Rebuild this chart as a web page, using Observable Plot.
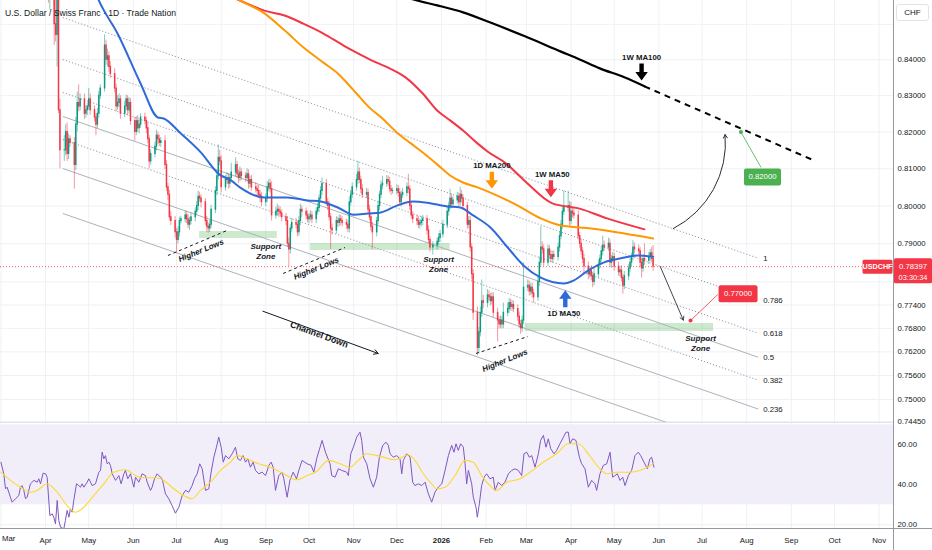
<!DOCTYPE html>
<html><head><meta charset="utf-8">
<script src="https://cdn.jsdelivr.net/npm/d3@7"></script>
<script src="https://cdn.jsdelivr.net/npm/@observablehq/plot@0.6"></script>
<style>
body{margin:0;background:#fff;}
#wrap{position:relative;width:932px;height:550px;overflow:hidden;background:#fff;font-family:'Liberation Sans',Arial,sans-serif;}
#price{position:absolute;left:0;top:0;z-index:2;}
#rsi{position:absolute;left:0;top:422px;z-index:1;}
#title{position:absolute;left:5px;top:8px;font-size:8.6px;color:#131722;white-space:nowrap;z-index:3;}
#chf{position:absolute;left:896px;top:4px;width:33px;height:17px;border:1px solid #e0e3eb;border-radius:3px;background:#fff;font-size:8px;line-height:15px;text-align:center;color:#131722;box-sizing:border-box;z-index:3;}
#vsep{position:absolute;left:893px;top:0;width:1px;height:550px;background:#9598a1;z-index:4;}
#hsep{position:absolute;left:0;top:528px;width:932px;height:1px;background:#9598a1;z-index:4;}
</style></head>
<body><div id="wrap"><div id="price"></div><div id="rsi"></div>
<div id="title">U.S. Dollar / Swiss Franc · 1D · Trade Nation</div><div id="chf">CHF</div><div id="vsep"></div><div id="hsep"></div></div>
<script>
// ---------- DATA ----------
const barsFrom = "2025-03-03", barsTo = "2026-05-29";
const holidays = ["2025-12-25","2026-01-01"];
const firstOpen = 0.9010;
const closes = [
0.8990,0.8920,0.8860,0.8830,0.8810,
0.8820,0.8810,0.8840,0.8850,0.8860,
0.8800,0.8780,0.8770,0.8800,0.8830,
0.8840,0.8830,0.8850,0.8830,0.8820,
0.8840,0.8830,0.8800,0.8600,0.8610,
0.8500,0.8470,0.8570,0.8260,0.8150,
0.8150,0.8200,0.8140,0.8180,0.8170,
0.8110,0.8220,0.8280,0.8270,0.8290,
0.8250,0.8260,0.8270,0.8290,0.8260,
0.8240,0.8220,0.8250,0.8300,0.8320,
0.8440,0.8400,0.8410,0.8380,0.8360,
0.8320,0.8270,0.8280,0.8290,0.8250,
0.8270,0.8290,0.8260,0.8280,0.8230,
0.8200,0.8230,0.8210,0.8220,0.8240,
0.8230,0.8210,0.8180,0.8120,0.8140,
0.8160,0.8190,0.8180,0.8170,0.8175,
0.8110,0.8050,0.8030,0.7970,0.7960,
0.7930,0.7910,0.7930,0.7960,0.7965,
0.7975,0.7965,0.7950,0.7960,0.7970,
0.7985,0.8000,0.8025,0.8020,0.8010,
0.7960,0.7945,0.7940,0.7950,0.7990,
0.8040,0.8080,0.8130,0.8120,0.8050,
0.8070,0.8075,0.8060,0.8075,0.8090,
0.8110,0.8085,0.8075,0.8090,0.8080,
0.8075,0.8085,0.8060,0.8070,0.8050,
0.8045,0.8040,0.8030,0.8025,0.8010,
0.8020,0.8050,0.8060,0.8045,0.7975,
0.7985,0.7990,0.7985,0.7980,0.7970,
0.7960,0.7900,0.7885,0.7940,0.7955,
0.7950,0.7930,0.7960,0.7990,0.7985,
0.7975,0.7965,0.7970,0.7975,0.7965,
0.7985,0.7995,0.8020,0.8040,0.8060,
0.8010,0.8000,0.7970,0.7940,0.7935,
0.7960,0.7955,0.7965,0.7960,0.7955,
0.7950,0.7940,0.8010,0.8030,0.8050,
0.8070,0.8090,0.8070,0.8045,0.8030,
0.8035,0.7990,0.7970,0.7945,0.7930,
0.7960,0.8000,0.8030,0.8055,0.8060,
0.8070,0.8065,0.8045,0.8040,0.8040,
0.8045,0.8035,0.8010,0.8030,0.8035,
0.8050,0.8045,0.8000,0.7975,0.7965,
0.7960,0.7950,0.7955,0.7960,0.7965,
0.7935,0.7910,0.7890,0.7895,
0.7905,0.7915,0.7925,0.7950,
0.7985,0.8000,0.8020,0.8005,0.8015,
0.8025,0.8010,0.8030,0.8020,0.8000,
0.7950,0.7960,0.7890,0.7820,0.7720,
0.7630,0.7670,0.7720,0.7750,0.7745,
0.7765,0.7760,0.7750,0.7760,0.7720,
0.7700,0.7690,0.7700,0.7690,0.7720,
0.7730,0.7745,0.7735,0.7740,0.7730,
0.7710,0.7690,0.7680,0.7700,0.7785,
0.7790,0.7775,0.7785,0.7770,0.7760,
0.7800,0.7850,0.7890,0.7885,0.7850,
0.7885,0.7870,0.7860,0.7870,0.7865,
0.7890,0.7920,0.7950,0.7985,0.7995,
0.8000,0.7960,0.7985,0.7980,0.7975,
0.7920,0.7900,0.7880,0.7860,0.7840,
0.7820,0.7830,0.7815,0.7800,0.7820,
0.7845,0.7860,0.7880,0.7895,0.7890,
0.7900,0.7850,0.7860,0.7865,0.7840,
0.7825,0.7830,0.7810,0.7790,0.7815,
0.7835,0.7850,0.7865,0.7890,0.7885,
0.7880,0.7850,0.7835,0.7860,0.7855,
0.7865,0.7875,0.7860,0.78397];
// wick extensions in pips beyond the candle body
const wickUp = [
10,12,8,10,9, 9,11,8,10,7, 8,10,12,9,11, 10,8,12,9,10, 8,10,20,10,30,
50,80,70,20,30, 40,20,25,15,10, 15,20,30,50,15, 15,12,10,30,15, 12,10,15,12,10,
30,15,20,12,15, 15,12,20,15,10, 15,12,10,15,12, 10,12,15,12,10, 12,10,15,10,12,
12,15,10,12,10, 15,12,10,12,15, 12,10,15,10,8, 12,10,12,10,12, 10,12,15,12,10,
10,12,10,12,12, 12,15,35,20,15, 12,15,12,10,25, 20,10,12,15,10, 10,15,12,10,12,
12,10,15,12,10, 12,15,10,12,20, 12,15,10,12,10, 10,12,15,10,12, 12,10,12,15,10,
10,12,10,12,10, 10,12,10,12,15, 12,10,12,10,12, 12,10,12,10,12, 10,12,15,12,12,
15,30,12,10,12, 12,10,12,10,12, 10,12,10,12,20, 12,10,12,10,8, 12,10,12,10,12,
12,35,10,12,10, 10,12,10,12,10, 10,12,8,10, 10,12,10,12, 12,10,25,12,10,
12,10,20,12,10, 10,12,12,10,12, 15,12,15,55,15, 15,12,10,12,12, 12,10,12,10,25,
15,12,10,12,10, 10,12,10,12,65, 15,12,10,12,10, 12,15,55,15,12, 12,10,12,10,12,
12,10,12,15,45, 40,12,25,12,15, 12,10,12,10,12, 12,10,12,10,15, 12,10,12,25,12,
15,12,10,12,10, 12,10,12,10,12, 10,12,10,18,12, 12,10,12,10,40, 12,10,15,35];
const wickDn = [
12,10,14,9,11, 10,8,12,9,10, 9,11,8,10,8, 8,12,9,10,11, 9,8,12,40,60,
60,20,90,10,50, 30,15,20,15,12, 65,15,20,15,12, 15,12,15,10,14, 12,30,10,12,10,
10,15,20,15,12, 12,15,10,12,15, 10,12,15,10,12, 25,10,12,15,10, 10,15,12,20,10,
10,12,15,10,12, 12,10,15,10,12, 15,35,10,12,8, 10,12,10,15,10, 12,10,12,10,15,
12,15,12,10,10, 10,12,10,12,15, 10,12,15,12,10, 12,10,15,10,12, 12,10,15,12,10,
10,12,10,15,12, 12,10,12,10,15, 10,12,15,10,12, 12,10,45,12,10, 10,12,10,12,15,
12,10,12,10,12, 12,10,12,10,12, 10,12,10,55,12, 10,12,10,12,10, 12,10,12,10,10,
10,12,10,12,10, 10,12,10,12,45, 12,10,12,10,12, 10,12,10,12,8, 10,12,10,12,10,
10,12,12,10,12, 12,10,12,10,12, 12,10,12,20, 12,10,12,10, 10,12,10,12,10,
10,12,10,12,12, 12,10,12,15,20, 20,15,12,12,15, 12,10,12,10,12, 55,12,10,12,10,
10,12,10,12,10, 12,10,15,10,10, 10,12,10,12,15, 10,12,10,12,10, 10,12,10,12,10,
10,12,10,12,10, 12,15,10,12,10, 10,12,10,12,15, 15,10,12,15,10, 10,12,10,12,10,
10,12,15,10,12, 10,12,10,22,10, 12,10,12,10,12, 10,12,25,10,12, 10,12,10,12];
const lastPriceText = "0.78397", countdownText = "03:30:34", symbolText = "USDCHF";

// moving averages
const ma50Date = ["2025-04-28","2025-05-08","2025-05-21","2025-06-06","2025-06-18","2025-06-22","2025-07-04","2025-07-18","2025-07-30","2025-08-08","2025-08-14","2025-08-31","2025-09-16","2025-09-30","2025-10-09","2025-10-21","2025-11-01","2025-11-11","2025-11-20","2025-12-01","2025-12-12","2025-12-22","2026-01-05","2026-01-14","2026-01-23","2026-02-04","2026-02-16","2026-02-27","2026-03-11","2026-03-27","2026-04-03","2026-04-13","2026-04-24","2026-05-05","2026-05-17","2026-05-28"];
const ma50Val = [0.8680,0.8568,0.8474,0.8334,0.8240,0.8237,0.8196,0.8144,0.8087,0.8068,0.8050,0.8023,0.8023,0.8015,0.8012,0.7996,0.7977,0.7980,0.7983,0.8001,0.8012,0.8009,0.7999,0.7996,0.7975,0.7943,0.7890,0.7843,0.7811,0.7796,0.7804,0.7830,0.7851,0.7861,0.7869,0.7866];
const ma200Date = ["2025-07-29","2025-08-14","2025-08-31","2025-09-14","2025-09-27","2025-10-11","2025-10-21","2025-11-03","2025-11-12","2025-11-21","2025-12-01","2025-12-10","2025-12-19","2025-12-29","2026-01-07","2026-01-16","2026-01-26","2026-02-04","2026-02-23","2026-03-11","2026-03-25","2026-04-15","2026-05-08","2026-05-28"];
const ma200Val = [0.8605,0.8568,0.8531,0.8483,0.8435,0.8392,0.8362,0.8306,0.8267,0.8237,0.8199,0.8171,0.8144,0.8112,0.8082,0.8063,0.8050,0.8036,0.8001,0.7967,0.7948,0.7940,0.7927,0.7914];
const w50Date = ["2025-07-29","2025-08-14","2025-08-31","2025-09-14","2025-09-27","2025-10-11","2025-10-25","2025-11-07","2025-11-17","2025-11-26","2025-12-07","2025-12-19","2025-12-29","2026-01-07","2026-01-16","2026-01-26","2026-02-02","2026-02-15","2026-03-01","2026-03-19","2026-04-07","2026-04-26","2026-05-22"];
const w50Val = [0.8596,0.8568,0.8539,0.8525,0.8502,0.8474,0.8440,0.8412,0.8392,0.8376,0.8351,0.8306,0.8259,0.8232,0.8204,0.8169,0.8147,0.8114,0.8063,0.8007,0.7993,0.7967,0.7938];
const w100Date = ["2025-11-19","2025-12-15","2025-12-29","2026-01-16","2026-02-04","2026-02-28","2026-03-25","2026-04-07","2026-04-21","2026-05-08","2026-05-22"];
const w100Val = [0.8602,0.8568,0.8554,0.8534,0.8505,0.8466,0.8423,0.8401,0.8376,0.8351,0.8326];
const w100ProjDate = ["2026-05-22","2026-09-17"], w100ProjVal = [0.8326,0.8122];

// Fibonacci channel
const fibLevels = ["1","0.786","0.618","0.5","0.382","0.236","0"];
const fibDotted = [true,true,true,false,true,false,false];
const fibStartDate = "2025-04-13", fibEndDate = "2026-08-09";
const fibStart = [0.85194,0.84008,0.83089,0.82426,0.81795,0.81008,0.79801];
const fibEnd = [0.78619,0.77525,0.76676,0.76064,0.75484,0.74761,0.73644];

// support zones
const zoneStart = ["2025-07-17","2025-10-02","2026-02-28"];
const zoneEnd = ["2025-09-09","2026-01-07","2026-07-09"];
const zoneLow = [0.79138,0.78822,0.76721];
const zoneHigh = [0.79323,0.79006,0.76926];

// annotations
const maLabelText = ["1W MA100","1D MA200","1W MA50","1D MA50"];
const maLabelDate = ["2026-05-20","2026-02-05","2026-03-19","2026-03-27"];
const maLabelPrice = [0.8406,0.8109,0.8085,0.7719];
const arrowDate = ["2026-05-20","2026-02-05","2026-03-18","2026-03-28"];
const arrowPrice = [0.8366,0.8069,0.8046,0.7756];
const arrowColor = ["#000000","#ff9800","#f23645","#2f6bd8"];
const arrowDir = ["down","down","down","up"];
const supportText = "Support\nZone";
const supportDate = ["2025-09-01","2025-12-30","2026-06-30"];
const supportPrice = [0.7882,0.7848,0.7643];
const hlText = "Higher Lows";
const hlDate = ["2025-07-18","2025-10-06","2026-02-14"];
const hlPrice = [0.7882,0.7835,0.7598];
const hlLineFrom = ["2025-06-25","2025-09-13","2026-01-25"], hlLineFromP = [0.7869,0.7822,0.7616];
const hlLineTo = ["2025-08-05","2025-10-26","2026-03-02"], hlLineToP = [0.7935,0.7890,0.7659];
const chanText = "Channel Down", chanDate = "2025-10-08", chanPrice = 0.7664;
const chanArrow = {from:"2025-08-30", fromP:0.7724, to:"2025-11-18", toP:0.7616};
const projArrow = {from:"2026-06-02", fromP:0.78397, to:"2026-06-18", toP:0.7701};
const curveArrow = {from:"2026-06-11", fromP:0.7940, to:"2026-07-17", toP:0.8193};
const targetText = ["0.77000","0.82000"];
const targetDotDate = ["2026-06-23","2026-07-28"], targetDotPrice = [0.7700,0.8200];
const targetBoxDate = ["2026-07-26","2026-08-12"], targetBoxPrice = [0.7769,0.8078];
const targetLinkDate = ["2026-07-12","2026-08-11"], targetLinkPrice = [0.77674,0.81034];
const targetColor = ["#f23645","#4caf50"];

// axes
const priceTicks = [0.85,0.84,0.83,0.82,0.81,0.80,0.79,0.78,0.774,0.768,0.762,0.756,0.75,0.7445];
const priceLabelTicks = [0.84,0.83,0.82,0.81,0.80,0.79,0.774,0.768,0.762,0.756,0.75,0.7445];
const rsiTicks = [20,40,60];
const rsiBandLow = 30, rsiBandHigh = 70;

// RSI (days after 2025-03-01)
const rsiDay = [0,2,3.2,4.3,6.6,7.8,10.1,12.4,13.6,14.7,15.9,17.1,18.2,20.5,22.9,25.2,26.3,27.5,29.3,31,32.1,34,35.6,36.7,37.9,39.1,40.2,41.4,43.7,44.8,46,47.2,48.3,49.5,50.6,52.5,54.1,55.3,56.4,57.6,59.9,61.1,63.4,65.7,68,69.2,70.3,71.5,72.6,73.8,75,76.1,77.3,79.6,81.9,83.5,85.4,86.5,88.1,90,92.3,93.5,95.8,98.1,100.4,101.6,103.9,105,106.7,108.5,110.8,112,114.3,116.6,118.9,121.2,123.6,125.9,128.2,130.5,132.8,134.4,136.3,138.1,139.8,142.1,144.4,146,147.9,149.7,151.3,153,154.4,156,158.3,160.6,162.9,164.5,166.4,168.2,169.9,171.5,173.3,175.2,176.8,179.1,181.4,183.8,186.1,187.7,189.1,190.7,193,195.3,196.5,198.8,200.7,203,205.3,206.9,209.2,212.7,215.5,217.3,219.6,223.1,225.4,
228.6,229.8,232.1,234.4,236.7,240.2,241.3,243,244.8,247.1,249.4,250.6,251.8,254.1,256.4,258.7,261,262.9,265.2,267.5,269.1,270.3,272.6,274.9,277.2,278.4,279.5,281.8,284.2,286,287.6,289.9,292.3,294.6,296.9,299.2,301.5,303.8,306.2,308.5,310.8,313.1,314.7,316.1,317.7,319.3,321.2,322.4,323.5,324.7,327,328.1,330,330.9,332.3,333.9,335.6,337.4,339.7,342,343.2,345.5,347.8,350.1,352.5,354.8,357.1,359.4,361.7,363.3,365.2,367,368.7,371,373.3,374.9,376.8,378.6,380.2,381.9,384.2,386,388.3,390.7,392.5,394.1,395.3,397.1,399.4,401.8,403.4,405.7,408,410.3,412.6,413.8,416.1,418.4,420.8,423.1,424.9,426.5,428.2,430,431.9,433.5,435.8,438.1,440.4,442.7,444.4,446.7,449,450.8,452,453.6];
const rsiVal = [51.3,45.5,38,38.8,33.8,31.3,33,34.6,38.8,39.6,37.2,33,33.8,40.5,42.2,41.3,43,40.5,45.8,45.5,43.8,24.6,25.5,23.8,20.5,32.2,22.2,18.8,18,22.2,27.2,23.8,28,26.3,32.2,40.5,39.6,38.8,40.5,38.8,41.3,43,39.6,40.5,46.3,47.2,56.3,53,54.6,50.5,51.3,49.7,45.5,42.2,44.6,40.5,45.5,47.2,43,45.5,38.8,43.8,41.3,45.5,44.6,41.3,37.2,38.8,43,45.5,43.8,43,35.5,33,29.6,25.8,28.8,34.6,37.2,36.3,39.6,43,45.5,50.5,48,37.2,38,46.3,53.8,58.8,63.8,58.8,51.3,54.6,53,55.5,58.8,53,52.2,54.6,51.3,53,48.8,51.3,47.2,45.5,46.3,44.6,49.7,51.3,48.8,37.2,44.6,46.3,43,33.8,42.2,46.3,43,47.2,52.2,50.5,49.7,46.3,53.8,62.2,56.3,
50.5,44.6,43.8,48,47.2,46.3,44.6,55.5,58.8,63.8,66.3,62.2,53.8,50.5,43,38.8,43.8,53.8,59.7,61.3,59.7,55.5,53.8,54.6,53,45.5,52.2,55.5,53.8,41.3,39.6,40.5,39.6,41.3,35.5,31.3,36.3,38.8,40.5,47.2,54.6,59.7,56.3,60.5,57.2,60.5,58.8,50.5,40.5,47.2,40.5,33.8,28.8,23.8,30.5,39.6,43.8,45.5,43,43.8,37.2,41.3,39.6,41.3,45.5,47.2,48,47.2,44.6,55.5,56.3,53.8,54.6,48.8,55.5,62.2,64.7,58.8,63,58,55.5,57.2,60.5,63.8,66.3,66.3,60.5,63,62.2,53.8,50.5,48,38.8,42.2,40.5,37.2,45.5,49.7,50.5,56.3,43.8,44.6,45.5,42.2,43.8,39.6,44.6,47.2,54.6,56.3,54.6,51.3,48,53,53.8,48.8];
const sigDay = [0,6.6,13.6,20.5,25.2,32.1,39.1,46,51.8,57.6,64.5,71.5,78.4,86.5,93.5,98.1,107.4,113.1,120.1,127,132.8,138.6,145.6,152.5,159.4,164.1,171,179.1,187.2,196.5,205.7,212.7,218.5,227.7,235.5,242.5,248.3,254.1,263.3,273.7,283,287.6,293.4,299.2,302.7,308.5,315.4,322.4,328.1,333.9,339.7,344.4,351.3,360.6,367.5,376.8,386,394.1,401.1,408,415,420.8,427.7,437,443.9,453.2];
const sigVal = [46.3,42.2,38.8,36.3,37.2,40.5,36.3,29.6,26.3,28.8,34.6,40.5,46.3,47.5,44.6,43.5,43.5,42.2,38,34.6,33,37.2,41.3,47.2,51.3,54.6,53,50.5,48.8,45.5,42.5,44.6,46.3,52.2,50.5,48.8,52.2,55.5,54.2,52.5,55,52.2,45.5,40.5,38,38.8,44.6,52.2,51.3,44.6,39.6,37.2,41.3,43,46.3,51.3,55.5,60.5,60.5,55.5,48.8,45.5,46.3,46.3,47.2,50.5];

// ---------- BUILD ----------
const FONT = "'Liberation Sans', Arial, sans-serif";
const TEAL = "#089981", RED = "#f23645", GRID = "#eef1f6", INK = "#131722";
const parse = s => new Date(s + "T00:00:00Z");
const fmtDay = d3.utcFormat("%Y-%m-%d");
const xDomain = [new Date("2025-02-28T17:00:00Z"), new Date("2026-11-10T23:30:00Z")];
const yDomain = [0.74425, 0.85679];
const monthTicks = d3.utcMonth.range(parse("2025-03-01"), parse("2026-11-02"));
const axisMonthTicks = monthTicks.slice(1);
const firstMonthLabel = "Mar";

const days = d3.utcDay.range(parse(barsFrom), parse(barsTo))
  .filter(d => { const w = d.getUTCDay(); return w !== 0 && w !== 6 && !holidays.includes(fmtDay(d)); });
const n = Math.min(days.length, closes.length, wickUp.length, wickDn.length);
const bars = [];
for (let i = 0; i < n; i++) {
  const o = i ? closes[i-1] : firstOpen, c = closes[i];
  const top = Math.max(o, c), bot = Math.min(o, c);
  bars.push({date: days[i], open: o, close: c, top, bot, high: top + wickUp[i]/1e4, low: bot - wickDn[i]/1e4, up: c >= o});
}
const upBars = bars.filter(b => b.up), dnBars = bars.filter(b => !b.up);
const lastClose = closes[closes.length - 1];

const series = (ds, vs) => ds.map((d, i) => ({date: parse(d), value: vs[i]}));
const ma50 = series(ma50Date, ma50Val), ma200 = series(ma200Date, ma200Val);
const w50 = series(w50Date, w50Val), w100 = series(w100Date, w100Val);

const fib = fibLevels.map((l, i) => ({level: l, dotted: fibDotted[i], x1: parse(fibStartDate), y1: fibStart[i], x2: parse(fibEndDate), y2: fibEnd[i]}));
const zones = zoneStart.map((s, i) => ({x1: parse(s), x2: parse(zoneEnd[i]), y1: zoneLow[i], y2: zoneHigh[i]}));

const arrowDownSym = {draw(c){ c.moveTo(-2.2,-8.5); c.lineTo(2.2,-8.5); c.lineTo(2.2,0); c.lineTo(6.2,0); c.lineTo(0,8.5); c.lineTo(-6.2,0); c.lineTo(-2.2,0); c.closePath(); }};
const arrowUpSym = {draw(c){ c.moveTo(-2.2,8.5); c.lineTo(2.2,8.5); c.lineTo(2.2,0); c.lineTo(6.2,0); c.lineTo(0,-8.5); c.lineTo(-6.2,0); c.lineTo(-2.2,0); c.closePath(); }};
const boxSym = (w, h, oy = 0, r = 2) => ({draw(c){
  const x0 = -w/2, y0 = -h/2 + oy;
  c.moveTo(x0 + r, y0); c.lineTo(x0 + w - r, y0); c.arcTo(x0 + w, y0, x0 + w, y0 + r, r);
  c.lineTo(x0 + w, y0 + h - r); c.arcTo(x0 + w, y0 + h, x0 + w - r, y0 + h, r);
  c.lineTo(x0 + r, y0 + h); c.arcTo(x0, y0 + h, x0, y0 + h - r, r);
  c.lineTo(x0, y0 + r); c.arcTo(x0, y0, x0 + r, y0, r); c.closePath(); }});

const arrowMarks = arrowDate.map((d, i) => Plot.dot([{date: parse(d), value: arrowPrice[i]}],
  {x: "date", y: "value", symbol: arrowDir[i] === "up" ? arrowUpSym : arrowDownSym, fill: arrowColor[i], stroke: "none"}));

const targetMarks = [];
targetText.forEach((t, i) => {
  targetMarks.push(Plot.link([0], {x1: () => parse(targetDotDate[i]), y1: () => targetDotPrice[i], x2: () => parse(targetLinkDate[i]), y2: () => targetLinkPrice[i], stroke: targetColor[i], strokeWidth: 0.8}));
  targetMarks.push(Plot.dot([0], {x: () => parse(targetDotDate[i]), y: () => targetDotPrice[i], r: 2, fill: targetColor[i]}));
  targetMarks.push(Plot.dot([0], {x: () => parse(targetBoxDate[i]), y: () => targetBoxPrice[i], symbol: boxSym(i === 0 ? 39 : 37, 17), fill: targetColor[i]}));
  targetMarks.push(Plot.text([t], {x: () => parse(targetBoxDate[i]), y: () => targetBoxPrice[i], text: d => d, fill: "white", fontSize: 7.8}));
});

const price = Plot.plot({
  width: 932, height: 422, marginTop: 0, marginRight: 39, marginBottom: 0, marginLeft: 0,
  style: {fontFamily: FONT, fontSize: "7.8px", color: INK, background: "transparent", overflow: "visible"},
  x: {type: "utc", domain: xDomain, axis: null, label: null},
  y: {type: "log", domain: yDomain, label: null},
  marks: [
    Plot.gridX(monthTicks, {stroke: GRID, strokeOpacity: 1}),
    Plot.gridY(priceTicks, {stroke: GRID, strokeOpacity: 1}),
    Plot.rect(zones, {x1: "x1", x2: "x2", y1: "y1", y2: "y2", fill: "#4caf50", fillOpacity: 0.28, clip: true}),
    Plot.link(fib.filter(f => f.dotted), {x1: "x1", y1: "y1", x2: "x2", y2: "y2", stroke: "#9598a1", strokeWidth: 1, strokeDasharray: "1.2,2", clip: true}),
    Plot.link(fib.filter(f => !f.dotted), {x1: "x1", y1: "y1", x2: "x2", y2: "y2", stroke: "#aeb1b9", strokeWidth: 1, clip: true}),
    Plot.text(fib.filter(f => f.y2 > yDomain[0]), {x: "x2", y: "y2", text: "level", dx: 5, textAnchor: "start", fill: INK, fontSize: 7.8}),
    Plot.ruleX(upBars, {x: "date", y1: "low", y2: "high", stroke: TEAL, strokeWidth: 0.8, strokeOpacity: 0.65, clip: true}),
    Plot.ruleX(dnBars, {x: "date", y1: "low", y2: "high", stroke: RED, strokeWidth: 0.8, strokeOpacity: 0.65, clip: true}),
    Plot.ruleX(upBars, {x: "date", y1: "top", y2: "bot", stroke: TEAL, strokeWidth: 1.5, insetTop: -0.5, insetBottom: -0.5, clip: true}),
    Plot.ruleX(dnBars, {x: "date", y1: "top", y2: "bot", stroke: RED, strokeWidth: 1.5, insetTop: -0.5, insetBottom: -0.5, clip: true}),
    Plot.line(w100, {x: "date", y: "value", stroke: "#000", strokeWidth: 2.2, curve: "monotone-x", clip: true}),
    Plot.link([0], {x1: () => parse(w100ProjDate[0]), y1: () => w100ProjVal[0], x2: () => parse(w100ProjDate[1]), y2: () => w100ProjVal[1], stroke: "#000", strokeWidth: 2, strokeDasharray: "6,5"}),
    Plot.line(w50, {x: "date", y: "value", stroke: "#f23645", strokeWidth: 2, curve: "monotone-x", clip: true}),
    Plot.line(ma200, {x: "date", y: "value", stroke: "#ff9800", strokeWidth: 2, curve: "monotone-x", clip: true}),
    Plot.line(ma50, {x: "date", y: "value", stroke: "#2f6bd8", strokeWidth: 2, curve: "monotone-x", clip: true}),
    Plot.ruleY([lastClose], {stroke: RED, strokeOpacity: 0.8, strokeDasharray: "1,2", strokeWidth: 1}),
    // annotations
    Plot.text(maLabelText, {x: (d, i) => parse(maLabelDate[i]), y: (d, i) => maLabelPrice[i], text: d => d, fontWeight: "bold", fontSize: 7.8, fill: INK}),
    ...arrowMarks,
    Plot.text(supportDate, {x: d => parse(d), y: (d, i) => supportPrice[i], text: () => supportText, fontStyle: "italic", fontWeight: "bold", fontSize: 8, fill: INK, lineHeight: 1.25}),
    Plot.link(hlLineFrom, {x1: d => parse(d), y1: (d, i) => hlLineFromP[i], x2: (d, i) => parse(hlLineTo[i]), y2: (d, i) => hlLineToP[i], stroke: INK, strokeWidth: 1, strokeDasharray: "3,3"}),
    Plot.text(hlDate, {x: d => parse(d), y: (d, i) => hlPrice[i], text: () => hlText, rotate: -22, fontStyle: "italic", fontWeight: "bold", fontSize: 8, fill: INK}),
    Plot.text([chanText], {x: () => parse(chanDate), y: () => chanPrice, text: d => d, rotate: 20, fontWeight: "bold", fontSize: 8.8, fill: INK}),
    Plot.arrow([chanArrow], {x1: d => parse(d.from), y1: "fromP", x2: d => parse(d.to), y2: "toP", stroke: INK, strokeWidth: 1, headLength: 7}),
    Plot.arrow([projArrow], {x1: d => parse(d.from), y1: "fromP", x2: d => parse(d.to), y2: "toP", stroke: "#434651", strokeWidth: 1, headLength: 6}),
    Plot.arrow([curveArrow], {x1: d => parse(d.from), y1: "fromP", x2: d => parse(d.to), y2: "toP", bend: -34, stroke: "#2a2e39", strokeWidth: 1, headLength: 6}),
    ...targetMarks,
    Plot.frame({anchor: "bottom", stroke: "#e0e3eb"}),
    Plot.axisY(priceLabelTicks, {anchor: "right", tickSize: 0, tickPadding: 4, tickFormat: d => d.toFixed(5), fontSize: 7.8, fill: INK}),
    // last price labels
    Plot.dot([lastClose], {x: () => xDomain[1], y: d => d, dx: -16, symbol: boxSym(30, 14, 0, 1.5), fill: RED}),
    Plot.text([lastClose], {x: () => xDomain[1], y: d => d, dx: -16, text: () => symbolText, fill: "white", fontSize: 7.2, fontWeight: "bold"}),
    Plot.dot([lastClose], {x: () => xDomain[1], y: d => d, dx: 19.5, symbol: boxSym(38, 25, 4, 1.5), fill: RED}),
    Plot.text([lastClose], {x: () => xDomain[1], y: d => d, dx: 19.5, text: () => lastPriceText, fill: "white", fontSize: 7.8}),
    Plot.text([lastClose], {x: () => xDomain[1], y: d => d, dx: 19.5, dy: 10.5, text: () => countdownText, fill: "white", fontSize: 7.4})
  ]
});
document.getElementById("price").appendChild(price);

const base = parse("2025-03-01").getTime();
const toDate = dd => new Date(base + dd * 864e5);
const rsiData = rsiDay.slice(0, Math.min(rsiDay.length, rsiVal.length)).map((d, i) => ({date: toDate(d), value: rsiVal[i]}));
const sigData = sigDay.slice(0, Math.min(sigDay.length, sigVal.length)).map((d, i) => ({date: toDate(d), value: sigVal[i]}));

const rsi = Plot.plot({
  width: 932, height: 128, marginTop: 0, marginRight: 39, marginBottom: 22, marginLeft: 0,
  style: {fontFamily: FONT, fontSize: "7.8px", color: INK, background: "white"},
  x: {type: "utc", domain: xDomain, label: null},
  y: {domain: [18.15, 71.15], label: null},
  marks: [
    Plot.rect([{lo: rsiBandLow, hi: rsiBandHigh}], {y1: "lo", y2: "hi", fill: "#7e57c2", fillOpacity: 0.1}),
    Plot.gridX(monthTicks, {stroke: GRID, strokeOpacity: 1}),
    Plot.gridY(rsiTicks, {stroke: GRID, strokeOpacity: 1}),
    Plot.line(rsiData, {x: "date", y: "value", stroke: "#7e57c2", strokeWidth: 1, clip: true}),
    Plot.line(sigData, {x: "date", y: "value", stroke: "#fdd835", strokeWidth: 1.1, curve: "monotone-x", clip: true}),
    Plot.axisY(rsiTicks, {anchor: "right", tickSize: 0, tickPadding: 4, tickFormat: d => d.toFixed(2), fontSize: 7.8, fill: INK}),
    Plot.axisX(axisMonthTicks, {anchor: "bottom", tickSize: 0, tickPadding: 9, fontSize: 7.8, fill: INK,
      tickFormat: d => d.getUTCMonth() === 0 ? String(d.getUTCFullYear()) : d3.utcFormat("%b")(d)}),
    Plot.text([firstMonthLabel], {x: () => monthTicks[0], frameAnchor: "bottom", dy: 12, dx: 1, textAnchor: "start", text: d => d, fontSize: 7.8, fill: INK})
  ]
});
document.getElementById("rsi").appendChild(rsi);
rsi.querySelectorAll("text").forEach(t => { if (t.textContent === "2026") t.setAttribute("font-weight", "bold"); });
</script></body></html>
